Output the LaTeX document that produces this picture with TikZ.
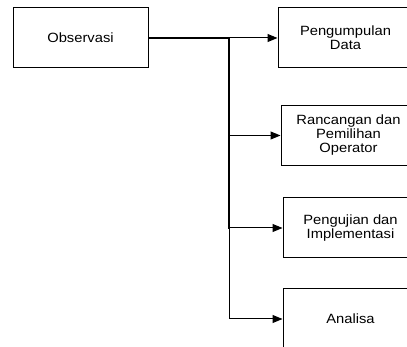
\documentclass[tikz,border=0pt]{standalone}
\usepackage{fontspec}
\setmainfont{Liberation Sans}[FakeStretch=1.1]
\usepackage{tikz}
\usetikzlibrary{arrows.meta,calc,positioning}

\tikzset{
  stagebox/.style={draw=black, line width=1pt, minimum width=135pt, minimum height=60pt,
    align=center, inner sep=2pt, font=\fontsize{13.4}{14}\selectfont},
  mainline/.style={line width=2pt, line cap=rect},
  branchline/.style={line width=1pt}
}

\begin{document}
\begin{tikzpicture}[x=1pt, y=-1pt, line join=miter, >={Triangle[length=10pt,width=8pt]}]
\useasboundingbox (0,0) rectangle (407,347);
\clip (0,0) rectangle (407,347);
% stages
\node[stagebox] (obs)  at (80.5,38)   {Observasi};
\node[stagebox] (data) at (345.5,38)  {Pengumpulan\\Data};
\node[stagebox] (ops)  at (348.5,135.5) {Rancangan dan\\Pemilihan\\Operator};
\node[stagebox] (impl) at (350.5,228) {Pengujian dan\\Implementasi};
\node[stagebox] (anl)  at (350.5,319) {Analisa};
% junctions on the trunk
\coordinate (top) at (229,38);
\coordinate (jops)  at (top |- ops.west);
\coordinate (jimpl) at (top |- impl.west);
\coordinate (janl)  at (top |- anl.west);
% trunk
\draw[mainline] (obs.east) -- (top) -- (jimpl);
\draw[branchline] (jimpl) -- (janl);
% branches
\draw[branchline,->] (top) -- (data.west);
\draw[branchline,->] (jops) -- (ops.west);
\draw[branchline,->] (jimpl) -- (impl.west);
\draw[branchline,->] (janl) -- (anl.west);
\end{tikzpicture}
\end{document}
